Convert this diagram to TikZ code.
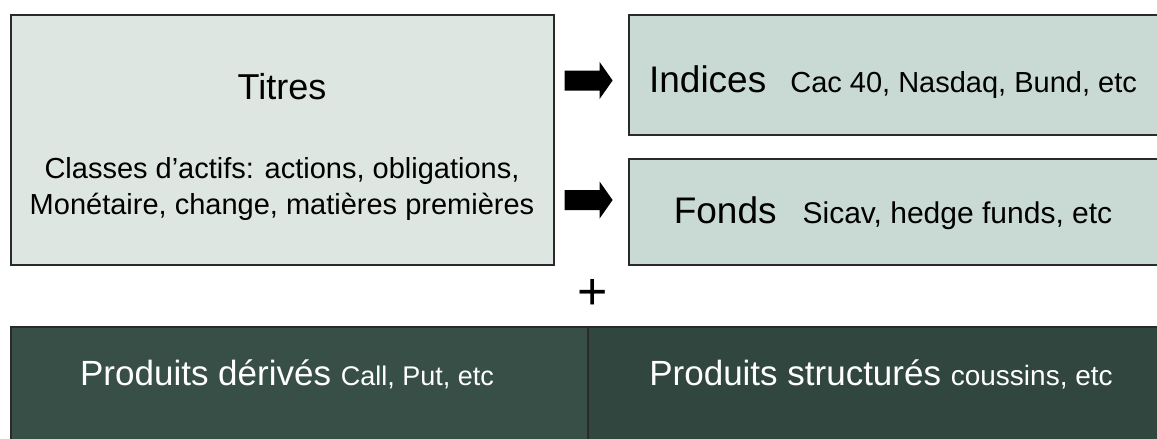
\documentclass[tikz,border=0pt]{standalone}
\usepackage{fontspec}
\setmainfont{Liberation Sans}
\definecolor{paleface}{HTML}{DEE6E2}
\definecolor{sageface}{HTML}{C8DAD3}
\definecolor{pineface}{HTML}{384F47}
\definecolor{forestface}{HTML}{30463E}
\definecolor{edgegray}{HTML}{2A2A2A}
\newcommand{\fsz}[1]{\fontsize{#1}{#1}\selectfont}
\begin{document}
\begin{tikzpicture}[x=1pt,y=-1pt,
  panel/.style={draw=edgegray, line width=1.6pt, inner sep=0pt, anchor=north west},
  label/.style={inner sep=0pt, anchor=base},
  blockarrow/.pic={\fill[black] (0,-10) -- (35,-10) -- (35,-18.5) -- (48,0)
                   -- (35,18.5) -- (35,10) -- (0,10) -- cycle;}]
\useasboundingbox (0,0) rectangle (1157,439);
\clip (0,0) rectangle (1157,439);

% securities block
\node[panel, fill=paleface, minimum width=543pt, minimum height=250pt] (titres) at (10,14) {};
\node[label, font=\fsz{36}] (titreslbl) at (282,99) {Titres};
\node[label, font=\fsz{29}] (classes1) at (282,178) {Classes d’actifs: actions, obligations,};
\node[label, font=\fsz{29}] (classes2) at (282,214) {Monétaire, change, matières premières};

% indices and funds
\node[panel, fill=sageface, minimum width=532pt, minimum height=120pt] (indices) at (628,14) {};
\node[label, font=\fsz{37}] (indiceslbl) at (893,92)
  {Indices\hspace{24pt}{\fsz{29}Cac 40, Nasdaq, Bund, etc}};
\node[panel, fill=sageface, minimum width=532pt, minimum height=106pt] (fonds) at (628,158) {};
\node[label, font=\fsz{37}] (fondslbl) at (893,223)
  {Fonds\hspace{26pt}{\fsz{30}Sicav, hedge funds, etc}};

% block arrows from the securities to the two targets
\coordinate (arrowA) at ([xshift=10pt]titres.east |- 0,80.5);
\coordinate (arrowB) at ([xshift=10pt]titres.east |- 0,200);
\pic at (arrowA) {blockarrow};
\pic at (arrowB) {blockarrow};

\node[inner sep=0pt, font=\fsz{52}] (plus) at (593,294) {+};

% derivatives and structured products
\node[panel, fill=pineface, minimum width=577pt, minimum height=140pt] (derives) at (10,326) {};
\node[panel, fill=forestface, minimum width=580pt, minimum height=140pt] (structures) at (587,326) {};
\node[label, font=\fsz{35}, text=white] (deriveslbl) at (287,385)
  {Produits dérivés {\fsz{27}Call, Put, etc}};
\node[label, font=\fsz{35}, text=white] (structureslbl) at (881,385)
  {Produits structurés {\fsz{28}coussins, etc}};
\end{tikzpicture}
\end{document}
